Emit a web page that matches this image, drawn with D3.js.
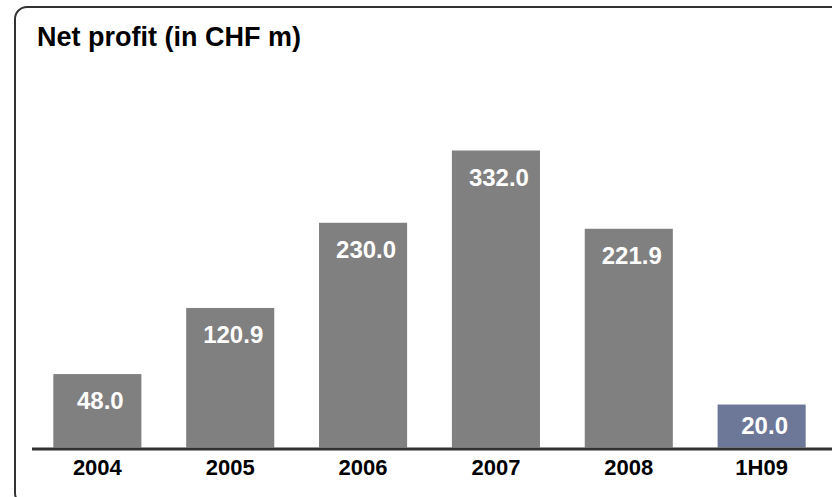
<!DOCTYPE html>
<html lang="en">
<head>
  <meta charset="UTF-8">
  <title>Net profit</title>
  <script src="https://d3js.org/d3.v7.min.js"></script>
  <style>
    body { margin: 0; background: #fff; }
    text { font-family: "Liberation Sans", Arial, sans-serif; font-weight: bold; }
  </style>
</head>
<body>
  <script>
    var periods = ["2004", "2005", "2006", "2007", "2008", "1H09"];
    var profits = [48.0, 120.9, 230.0, 332.0, 221.9, 20.0];
    var barColors = ["#808080", "#808080", "#808080", "#808080", "#808080", "#6d7899"];

    var width = 832, height = 497;
    var baseline = 447.5;

    var svg = d3.select("body")
                .append("svg")
                .attr("width", width)
                .attr("height", height);

    // frame (right and bottom edges run off the picture)
    svg.append("rect")
       .attr("x", 15)
       .attr("y", 7)
       .attr("width", 900)
       .attr("height", 498)
       .attr("rx", 12)
       .style("fill", "none")
       .style("stroke", "#333")
       .style("stroke-width", 2);

    svg.append("text")
       .attr("x", 37)
       .attr("y", 46)
       .style("font-size", "27px")
       .style("fill", "#000")
       .text("Net profit (in CHF m)");

    var x = d3.scaleBand()
              .domain(periods)
              .range([31, 828])
              .paddingInner(0.337)
              .paddingOuter(0.168);

    // bar heights in the original are not proportional to the values
    var y = d3.scalePow()
              .exponent(0.8)
              .domain([-7, 332])
              .range([baseline, baseline - 297]);

    var data = periods.map(function(p, i) {
      return { period: p, value: profits[i], color: barColors[i] };
    });

    svg.selectAll("rect.bar")
       .data(data)
       .enter()
       .append("rect")
       .attr("class", "bar")
       .attr("x", d => x(d.period))
       .attr("y", d => y(d.value))
       .attr("width", x.bandwidth())
       .attr("height", d => baseline - y(d.value))
       .style("fill", d => d.color);

    svg.selectAll("text.value")
       .data(data)
       .enter()
       .append("text")
       .attr("class", "value")
       .attr("x", d => x(d.period) + x.bandwidth() / 2 + 3)
       .attr("y", function(d) {
         var top = y(d.value);
         return Math.min(top + 35, (top + baseline) / 2 + 8);
       })
       .attr("text-anchor", "middle")
       .style("font-size", "24px")
       .style("fill", "#fff")
       .text(d => d.value.toFixed(1));

    svg.append("line")
       .attr("x1", 32)
       .attr("x2", width)
       .attr("y1", baseline + 1.5)
       .attr("y2", baseline + 1.5)
       .style("stroke", "#333")
       .style("stroke-width", 3);

    svg.selectAll("text.cat")
       .data(periods)
       .enter()
       .append("text")
       .attr("class", "cat")
       .attr("x", d => x(d) + x.bandwidth() / 2)
       .attr("y", 475)
       .attr("text-anchor", "middle")
       .style("font-size", "22px")
       .style("fill", "#000")
       .text(d => d);
  </script>
</body>
</html>
